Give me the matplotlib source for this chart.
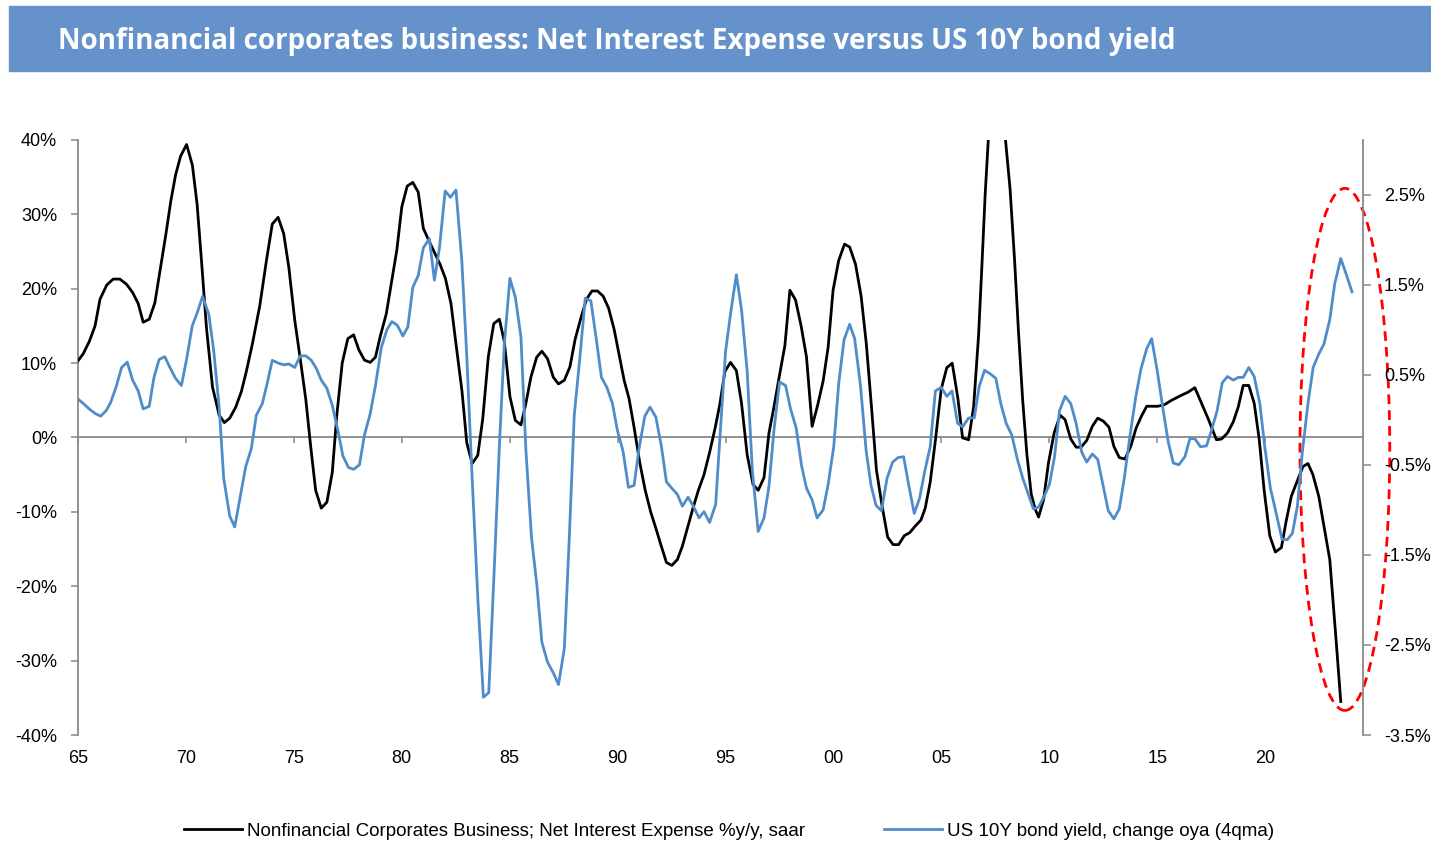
import matplotlib
matplotlib.use("Agg")
import matplotlib.pyplot as plt
from matplotlib.patches import Ellipse, Rectangle

# --- data (year as decimal, quarterly-ish) ---
nie_years = [
    1965.00, 1965.25, 1965.52, 1965.79, 1966.02, 1966.33, 1966.63, 1966.94, 1967.25, 1967.53,
    1967.79, 1968.02, 1968.30, 1968.56, 1968.82, 1969.07, 1969.30, 1969.52, 1969.75, 1970.03,
    1970.30, 1970.52, 1970.72, 1970.95, 1971.23, 1971.54, 1971.78, 1972.03, 1972.31, 1972.57,
    1972.80, 1973.08, 1973.42, 1973.73, 1974.00, 1974.27, 1974.53, 1974.77, 1975.04, 1975.30,
    1975.55, 1975.78, 1976.01, 1976.27, 1976.53, 1976.78, 1976.99, 1977.24, 1977.50, 1977.77,
    1978.01, 1978.27, 1978.54, 1978.78, 1979.01, 1979.28, 1979.51, 1979.77, 1980.00, 1980.25,
    1980.51, 1980.76, 1981.00, 1981.25, 1981.51, 1981.77, 1982.02, 1982.28, 1982.51, 1982.79,
    1983.01, 1983.26, 1983.52, 1983.75, 1984.01, 1984.26, 1984.52, 1984.75, 1985.01, 1985.26,
    1985.52, 1985.75, 1985.98, 1986.25, 1986.49, 1986.75, 1987.02, 1987.26, 1987.53, 1987.79,
    1988.03, 1988.30, 1988.56, 1988.81, 1989.07, 1989.33, 1989.58, 1989.84, 1990.07, 1990.30,
    1990.53, 1990.76, 1991.02, 1991.27, 1991.53, 1991.77, 1992.00, 1992.26, 1992.51, 1992.77,
    1993.00, 1993.23, 1993.49, 1993.74, 1994.00, 1994.26, 1994.51, 1994.73, 1994.97, 1995.23,
    1995.50, 1995.74, 1996.00, 1996.27, 1996.51, 1996.78, 1997.01, 1997.24, 1997.50, 1997.75,
    1997.98, 1998.24, 1998.50, 1998.75, 1999.01, 1999.27, 1999.52, 1999.75, 1999.98, 2000.24,
    2000.51, 2000.75, 2001.02, 2001.28, 2001.52, 2001.76, 2001.99, 2002.25, 2002.51, 2002.76,
    2003.02, 2003.28, 2003.53, 2003.79, 2004.05, 2004.25, 2004.48, 2004.72, 2004.99, 2005.25,
    2005.50, 2005.76, 2005.98, 2006.26, 2006.49, 2006.72, 2006.87, 2007.03, 2007.25, 2007.50,
    2007.75, 2007.95, 2008.18, 2008.39, 2008.57, 2008.76, 2008.96, 2009.16, 2009.34, 2009.50,
    2009.73, 2009.96, 2010.22, 2010.50, 2010.73, 2010.99, 2011.24, 2011.47, 2011.73, 2011.99,
    2012.24, 2012.50, 2012.76, 2012.99, 2013.24, 2013.50, 2013.77, 2014.01, 2014.27, 2014.51,
    2014.77, 2015.02, 2015.32, 2015.66, 2016.13, 2016.43, 2016.74, 2017.05, 2017.36, 2017.74,
    2017.98, 2018.25, 2018.52, 2018.75, 2018.98, 2019.24, 2019.49, 2019.72, 2019.95, 2020.21,
    2020.47, 2020.75, 2020.98, 2021.21, 2021.49, 2021.75, 2021.98, 2022.21, 2022.48, 2022.72,
    2022.99, 2023.25, 2023.50,
]
nie_yoy = [
    10.3, 11.3, 12.9, 15.0, 18.6, 20.5, 21.3, 21.3, 20.6, 19.5,
    18.0, 15.5, 15.9, 18.1, 22.8, 27.3, 31.8, 35.3, 37.8, 39.4,
    36.6, 31.3, 23.8, 14.8, 6.8, 3.0, 2.0, 2.6, 4.1, 6.2,
    8.9, 12.6, 17.7, 23.8, 28.7, 29.6, 27.4, 22.8, 15.8, 10.5,
    5.2, -1.2, -7.1, -9.5, -8.7, -4.7, 3.0, 10.0, 13.3, 13.8,
    11.8, 10.4, 10.1, 10.8, 13.7, 16.6, 20.6, 25.2, 31.0, 33.8,
    34.3, 33.0, 28.1, 26.5, 24.9, 23.3, 21.4, 18.0, 12.6, 6.2,
    -0.7, -3.5, -2.4, 2.5, 10.9, 15.3, 15.9, 12.9, 5.5, 2.3,
    1.7, 4.6, 8.1, 10.8, 11.6, 10.6, 8.1, 7.2, 7.7, 9.5,
    13.2, 16.1, 18.6, 19.7, 19.7, 19.0, 17.4, 14.5, 11.1, 7.7,
    5.2, 1.4, -3.3, -7.0, -10.0, -12.2, -14.4, -16.8, -17.2, -16.4,
    -14.6, -12.2, -9.5, -7.1, -5.0, -2.0, 1.2, 4.4, 8.9, 10.1,
    9.0, 4.6, -2.3, -6.3, -7.1, -5.4, 0.6, 4.1, 8.4, 12.4,
    19.8, 18.5, 15.0, 10.8, 1.5, 4.4, 7.6, 12.1, 19.8, 23.8,
    26.0, 25.6, 23.3, 19.0, 12.6, 4.1, -4.4, -9.2, -13.4, -14.4,
    -14.4, -13.2, -12.8, -11.9, -11.1, -9.5, -6.0, -0.4, 6.5, 9.4,
    10.0, 5.3, -0.05, -0.3, 4.1, 13.7, 22.8, 32.9, 44.0, 49.0,
    46.0, 40.6, 33.4, 23.8, 14.2, 5.2, -2.3, -7.6, -9.6, -10.7,
    -8.4, -3.4, 0.6, 3.0, 2.4, -0.2, -1.3, -1.3, -0.4, 1.5,
    2.6, 2.2, 1.4, -1.2, -2.7, -2.9, -1.2, 1.2, 2.9, 4.2,
    4.2, 4.2, 4.4, 5.0, 5.7, 6.1, 6.7, 4.6, 2.5, -0.3,
    -0.2, 0.6, 2.1, 4.1, 7.0, 7.0, 4.6, -0.2, -7.1, -13.2,
    -15.4, -14.8, -11.1, -7.9, -5.8, -3.9, -3.5, -5.0, -7.9, -11.9,
    -16.4, -26.0, -35.5,
]

yield_years = [
    1965.00, 1965.25, 1965.52, 1965.79, 1966.05, 1966.30, 1966.51, 1966.76, 1967.02, 1967.28,
    1967.53, 1967.79, 1968.02, 1968.30, 1968.52, 1968.76, 1969.02, 1969.26, 1969.52, 1969.79,
    1970.03, 1970.29, 1970.54, 1970.77, 1971.06, 1971.29, 1971.54, 1971.75, 1972.03, 1972.26,
    1972.52, 1972.77, 1973.03, 1973.26, 1973.54, 1973.76, 1974.00, 1974.27, 1974.53, 1974.77,
    1975.04, 1975.30, 1975.55, 1975.81, 1976.04, 1976.27, 1976.53, 1976.78, 1977.04, 1977.27,
    1977.53, 1977.77, 1978.04, 1978.27, 1978.54, 1978.78, 1979.05, 1979.31, 1979.54, 1979.79,
    1980.05, 1980.28, 1980.51, 1980.76, 1981.00, 1981.28, 1981.51, 1981.74, 1982.01, 1982.25,
    1982.51, 1982.78, 1983.01, 1983.26, 1983.52, 1983.78, 1984.03, 1984.29, 1984.52, 1984.75,
    1985.01, 1985.26, 1985.52, 1985.75, 1986.01, 1986.26, 1986.49, 1986.75, 1987.02, 1987.26,
    1987.53, 1987.76, 1987.99, 1988.25, 1988.50, 1988.76, 1988.99, 1989.25, 1989.50, 1989.76,
    1989.99, 1990.25, 1990.50, 1990.76, 1990.99, 1991.26, 1991.50, 1991.77, 1992.03, 1992.26,
    1992.51, 1992.77, 1993.00, 1993.26, 1993.51, 1993.77, 1994.00, 1994.26, 1994.54, 1994.77,
    1995.00, 1995.25, 1995.50, 1995.74, 1996.00, 1996.24, 1996.51, 1996.78, 1997.01, 1997.24,
    1997.50, 1997.78, 1998.01, 1998.27, 1998.52, 1998.75, 1999.01, 1999.24, 1999.52, 1999.75,
    2000.01, 2000.24, 2000.49, 2000.75, 2000.98, 2001.25, 2001.51, 2001.74, 2001.97, 2002.22,
    2002.48, 2002.74, 2002.99, 2003.25, 2003.48, 2003.74, 2003.99, 2004.22, 2004.48, 2004.72,
    2004.99, 2005.25, 2005.49, 2005.75, 2005.98, 2006.26, 2006.52, 2006.75, 2007.00, 2007.26,
    2007.52, 2007.75, 2008.00, 2008.26, 2008.52, 2008.77, 2009.03, 2009.26, 2009.50, 2009.76,
    2010.00, 2010.24, 2010.47, 2010.73, 2010.99, 2011.24, 2011.50, 2011.73, 2011.99, 2012.24,
    2012.50, 2012.73, 2012.99, 2013.24, 2013.47, 2013.74, 2014.00, 2014.24, 2014.51, 2014.74,
    2015.00, 2015.25, 2015.51, 2015.74, 2016.00, 2016.28, 2016.51, 2016.74, 2017.00, 2017.28,
    2017.51, 2017.77, 2018.01, 2018.25, 2018.52, 2018.75, 2018.98, 2019.24, 2019.49, 2019.75,
    2019.98, 2020.24, 2020.49, 2020.78, 2021.03, 2021.26, 2021.49, 2021.72, 2021.98, 2022.22,
    2022.48, 2022.72, 2022.99, 2023.22, 2023.50, 2023.76, 2024.02,
]
yield_chg = [
    0.23, 0.18, 0.12, 0.07, 0.04, 0.10, 0.19, 0.36, 0.58, 0.64,
    0.44, 0.32, 0.12, 0.15, 0.47, 0.67, 0.70, 0.58, 0.46, 0.38,
    0.67, 1.04, 1.20, 1.37, 1.17, 0.76, 0.14, -0.65, -1.07, -1.19,
    -0.85, -0.52, -0.32, 0.05, 0.18, 0.40, 0.66, 0.63, 0.61, 0.62,
    0.58, 0.71, 0.71, 0.66, 0.57, 0.44, 0.35, 0.16, -0.12, -0.40,
    -0.53, -0.55, -0.50, -0.17, 0.07, 0.38, 0.80, 1.00, 1.09, 1.05,
    0.93, 1.03, 1.47, 1.60, 1.91, 2.01, 1.55, 1.90, 2.54, 2.47,
    2.55, 1.77, 0.71, -0.65, -1.97, -3.08, -3.03, -1.62, -0.30, 0.84,
    1.57, 1.36, 0.92, -0.34, -1.31, -1.84, -2.47, -2.69, -2.81, -2.94,
    -2.54, -1.31, 0.05, 0.69, 1.35, 1.32, 0.93, 0.47, 0.36, 0.18,
    -0.12, -0.35, -0.75, -0.73, -0.32, 0.04, 0.14, 0.03, -0.30, -0.69,
    -0.76, -0.83, -0.96, -0.86, -0.96, -1.09, -1.02, -1.14, -0.94, -0.08,
    0.76, 1.21, 1.61, 1.22, 0.54, -0.56, -1.24, -1.09, -0.74, -0.12,
    0.42, 0.38, 0.12, -0.09, -0.51, -0.76, -0.89, -1.09, -1.00, -0.72,
    -0.30, 0.40, 0.89, 1.06, 0.90, 0.38, -0.34, -0.73, -0.95, -1.01,
    -0.65, -0.47, -0.42, -0.41, -0.72, -1.04, -0.87, -0.58, -0.30, 0.32,
    0.36, 0.26, 0.32, -0.04, -0.08, 0.02, 0.02, 0.37, 0.55, 0.51,
    0.46, 0.18, -0.04, -0.17, -0.44, -0.65, -0.83, -0.99, -0.97, -0.85,
    -0.72, -0.41, 0.10, 0.26, 0.18, -0.04, -0.36, -0.47, -0.38, -0.44,
    -0.74, -1.01, -1.10, -0.99, -0.65, -0.17, 0.25, 0.56, 0.79, 0.90,
    0.54, 0.14, -0.25, -0.48, -0.50, -0.41, -0.21, -0.21, -0.30, -0.29,
    -0.12, 0.10, 0.41, 0.48, 0.44, 0.47, 0.47, 0.58, 0.48, 0.18,
    -0.30, -0.76, -1.02, -1.33, -1.33, -1.26, -0.96, -0.36, 0.18, 0.58,
    0.73, 0.84, 1.11, 1.51, 1.79, 1.61, 1.42,
]

x_tick_years = [1965, 1970, 1975, 1980, 1985, 1990, 1995, 2000, 2005, 2010, 2015, 2020]
x_tick_labels = ["65", "70", "75", "80", "85", "90", "95", "00", "05", "10", "15", "20"]
left_ticks = [-40, -30, -20, -10, 0, 10, 20, 30, 40]
right_ticks = [-3.5, -2.5, -1.5, -0.5, 0.5, 1.5, 2.5]

TITLE = "Nonfinancial corporates business: Net Interest Expense versus US 10Y bond yield"
LABEL_NIE = "Nonfinancial Corporates Business; Net Interest Expense %y/y, saar"
LABEL_YIELD = "US 10Y bond yield, change oya (4qma)"

BLUE = "#4F8CC9"
GREY = "#898989"

plt.rcParams["font.family"] = ["Liberation Sans", "DejaVu Sans"]

fig = plt.figure(figsize=(14.31, 8.46), dpi=100)

# title banner
fig.patches.append(Rectangle((9 / 1431, 1 - 71 / 846), 1421 / 1431, 65 / 846,
                             transform=fig.transFigure, color="#6692CC", zorder=0))
fig.text(58 / 1431, 1 - 41 / 846, TITLE, color="white", fontsize=20,
         fontweight="bold", family="Open Sans", va="center", ha="left")

ax = fig.add_axes([78 / 1431, 111 / 846, 1285 / 1431, 595 / 846])
ax2 = ax.twinx()

l1, = ax.plot(nie_years, nie_yoy, color="black", lw=2.0, zorder=3)
l2, = ax2.plot(yield_years, yield_chg, color=BLUE, lw=2.0, zorder=3)

ax.set_xlim(1965.0, 2024.53)
ax.set_ylim(-40, 40)
ax2.set_ylim(-3.5, 3.106)

# x axis line sits on zero, labels at the bottom
ax.spines["bottom"].set_position(("data", 0))
ax.spines["bottom"].set_color(GREY)
ax.spines["bottom"].set_linewidth(1.3)
ax.set_xticks(x_tick_years)
ax.tick_params(axis="x", direction="out", length=4, width=1.1, color=GREY, labelbottom=False)
sec = ax.secondary_xaxis("bottom")
sec.set_xticks(x_tick_years, x_tick_labels)
sec.tick_params(length=0, pad=11, labelsize=13)
sec.spines["bottom"].set_visible(False)

for a in (ax, ax2):
    a.spines["top"].set_visible(False)
ax2.spines["bottom"].set_visible(False)
ax.spines["right"].set_visible(False)
ax.spines["left"].set_color(GREY)
ax.spines["left"].set_linewidth(1.3)
ax2.spines["right"].set_color(GREY)
ax2.spines["right"].set_linewidth(1.3)
ax2.spines["left"].set_visible(False)

ax.set_yticks(left_ticks, [f"{v:d}%" for v in left_ticks])
ax.tick_params(axis="y", direction="out", length=5, width=1.1, color=GREY, pad=10, labelsize=13)
ax2.set_yticks(right_ticks, [f"{v:.1f}%" for v in right_ticks])
ax2.tick_params(axis="y", direction="out", length=6, width=1.1, color=GREY, pad=9, labelsize=13)

# red dashed highlight around the latest readings
ell = Ellipse((2023.69, -1.6), width=4.16, height=70.2, fill=False, edgecolor="red",
              lw=2.0, linestyle=(0, (3.5, 2.2)), clip_on=False, zorder=5)
ax.add_patch(ell)

fig.legend([l1, l2], [LABEL_NIE, LABEL_YIELD], loc="center", ncol=2,
           bbox_to_anchor=(729 / 1431, 1 - 831 / 846), frameon=False, fontsize=13.5,
           handlelength=3.1, handletextpad=0.25, columnspacing=4.2)

fig.savefig("out.png", dpi=100)
